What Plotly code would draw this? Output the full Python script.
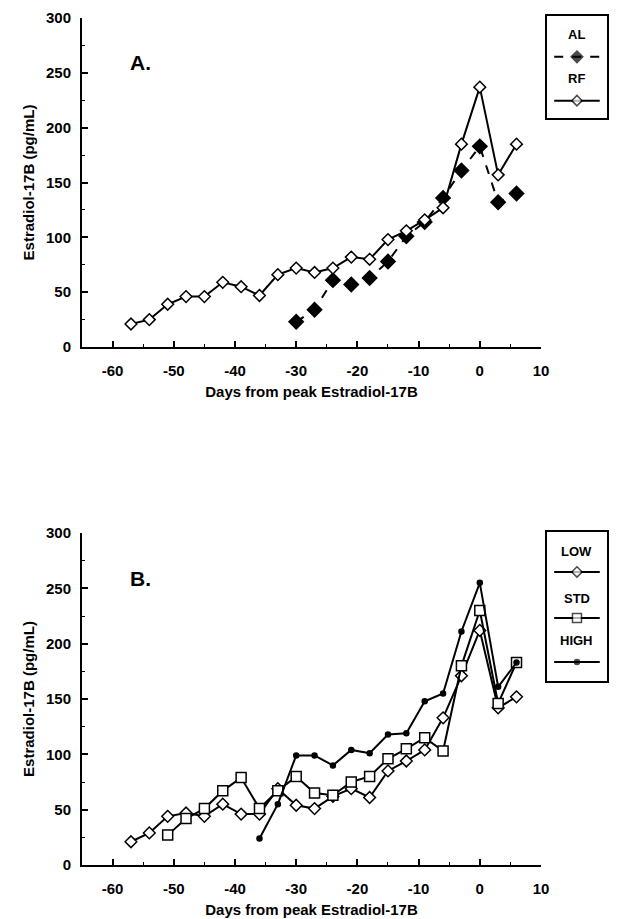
import plotly.graph_objects as go

# ---- data ----
days_rf = [-57, -54, -51, -48, -45, -42, -39, -36, -33, -30, -27, -24, -21, -18, -15, -12, -9, -6, -3, 0, 3, 6]
rf_vals = [21, 25, 39, 46, 46, 59, 55, 47, 66, 72, 68, 72, 82, 80, 98, 106, 116, 127, 185, 237, 157, 185]
days_al = [-30, -27, -24, -21, -18, -15, -12, -9, -6, -3, 0, 3, 6]
al_vals = [23, 34, 61, 57, 63, 78, 101, 114, 136, 161, 183, 132, 140]

days_low = [-57, -54, -51, -48, -45, -42, -39, -36, -33, -30, -27, -24, -21, -18, -15, -12, -9, -6, -3, 0, 3, 6]
low_vals = [21, 29, 44, 47, 44, 55, 46, 46, 69, 54, 51, 62, 69, 61, 85, 94, 104, 133, 171, 212, 142, 152]
days_std = [-51, -48, -45, -42, -39, -36, -33, -30, -27, -24, -21, -18, -15, -12, -9, -6, -3, 0, 3, 6]
std_vals = [27, 42, 51, 67, 79, 51, 67, 80, 65, 63, 75, 80, 96, 105, 115, 103, 180, 230, 146, 183]
days_high = [-36, -33, -30, -27, -24, -21, -18, -15, -12, -9, -6, -3, 0, 3, 6]
high_vals = [24, 55, 99, 99, 90, 104, 101, 118, 119, 148, 155, 211, 255, 161, 183]

x_ticks = [-60, -50, -40, -30, -20, -10, 0, 10]
x_ticklabels = ["-60", "-50", "-40", "-30", "-20", "-10", "0", "10"]
y_ticks = [0, 50, 100, 150, 200, 250, 300]
x_title = "Days from peak Estradiol-17B"
y_title = "Estradiol-17B (pg/mL)"
legend_a = ["AL", "RF"]
legend_b = ["LOW", "STD", "HIGH"]

FONT = "Liberation Sans, Arial, sans-serif"
BLACK = "black"

fig = go.Figure()

def line_trace(x, y, xa, ya, symbol, size, dash="solid", msize_line=1.5, fill=False):
    return go.Scatter(
        x=x, y=y, xaxis=xa, yaxis=ya, mode="lines+markers",
        line=dict(color=BLACK, width=2, dash=dash),
        marker=dict(symbol=symbol, size=size, color=BLACK if fill else "white",
                    line=dict(color=BLACK, width=msize_line)),
        showlegend=False, hoverinfo="skip", cliponaxis=False,
    )

# Panel A
fig.add_trace(line_trace(days_al, al_vals, "x", "y", "diamond", 11, dash="dash", fill=True))
fig.add_trace(line_trace(days_rf, rf_vals, "x", "y", "diamond", 9))
# Panel B
fig.add_trace(line_trace(days_low, low_vals, "x2", "y2", "diamond", 9))
fig.add_trace(line_trace(days_std, std_vals, "x2", "y2", "square", 10))
fig.add_trace(line_trace(days_high, high_vals, "x2", "y2", "circle", 5, fill=True))

# Legend samples (in legend axes, unit range)
fig.add_trace(line_trace([0.12, 0.5, 0.88], [0.60, 0.60, 0.60], "x3", "y3", "diamond", [0, 9, 0], dash="dash", fill=True))
fig.add_trace(line_trace([0.12, 0.5, 0.88], [0.17, 0.17, 0.17], "x3", "y3", "diamond", [0, 8, 0]))
fig.add_trace(line_trace([0.12, 0.5, 0.88], [0.732, 0.732, 0.732], "x4", "y4", "diamond", [0, 8, 0]))
fig.add_trace(line_trace([0.12, 0.5, 0.88], [0.423, 0.423, 0.423], "x4", "y4", "square", [0, 9, 0]))
fig.add_trace(line_trace([0.12, 0.5, 0.88], [0.128, 0.128, 0.128], "x4", "y4", "circle", [0, 5, 0], fill=True))

MAIN_X = [0, 0.8726]
LEG_X = [0.884, 0.998]
DOM_A = [0.6101, 0.9976]
DOM_B = [0.0, 0.3910]

def xaxis(anchor, domain):
    return dict(
        domain=domain, anchor=anchor, range=[-65, 10], tickvals=x_ticks, ticktext=x_ticklabels,
        automargin=False,
        ticks="inside", ticklen=6, tickwidth=1.5, tickcolor=BLACK,
        minor=dict(dtick=5, tick0=0, ticks="inside", ticklen=3, tickwidth=1, tickcolor=BLACK),
        showline=True, linecolor=BLACK, linewidth=2, showgrid=False, zeroline=False,
        tickfont=dict(family=FONT, size=15, color=BLACK, weight="bold"),
        ticklabelstandoff=9,
        title=dict(text=x_title, font=dict(family=FONT, size=15, color=BLACK, weight="bold"), standoff=8),
    )

def yaxis(anchor, domain):
    return dict(
        domain=domain, anchor=anchor, range=[0, 300], tickvals=y_ticks, automargin=False,
        ticks="inside", ticklen=6, tickwidth=1.5, tickcolor=BLACK,
        minor=dict(dtick=25, tick0=0, ticks="inside", ticklen=3, tickwidth=1, tickcolor=BLACK),
        showline=True, linecolor=BLACK, linewidth=2, showgrid=False, zeroline=False,
        tickfont=dict(family=FONT, size=15, color=BLACK, weight="bold"),
        ticklabelstandoff=6,
        title=dict(text=y_title, font=dict(family=FONT, size=15, color=BLACK, weight="bold"), standoff=8),
    )

def legaxis(anchor, domain):
    return dict(domain=domain, anchor=anchor, range=[0, 1], showline=True, mirror=True,
                linecolor=BLACK, linewidth=2, showgrid=False, zeroline=False, automargin=False,
                showticklabels=False, ticks="")

fig.update_layout(
    template="none",
    width=610, height=911,
    margin=dict(l=74, r=10, t=8, b=54, autoexpand=False),
    paper_bgcolor="white", plot_bgcolor="white",
    xaxis=xaxis("y", MAIN_X), yaxis=yaxis("x", DOM_A),
    xaxis2=xaxis("y2", MAIN_X), yaxis2=yaxis("x2", DOM_B),
    xaxis3=legaxis("y3", LEG_X), yaxis3=legaxis("x3", [0.8799, 1.0]),
    xaxis4=legaxis("y4", LEG_X), yaxis4=legaxis("x4", [0.2167, 0.3922]),
)

ann_font = dict(family=FONT, size=13, color=BLACK, weight="bold")
annotations = [
    dict(text="A.", x=-55.5, y=259, xref="x", yref="y", showarrow=False,
         font=dict(family=FONT, size=21, color=BLACK, weight="bold")),
    dict(text="B.", x=-55.5, y=259, xref="x2", yref="y2", showarrow=False,
         font=dict(family=FONT, size=21, color=BLACK, weight="bold")),
    dict(text=legend_a[0], x=0.5, y=0.82, xref="x3", yref="y3", showarrow=False, font=ann_font),
    dict(text=legend_a[1], x=0.5, y=0.39, xref="x3", yref="y3", showarrow=False, font=ann_font),
    dict(text=legend_b[0], x=0.5, y=0.866, xref="x4", yref="y4", showarrow=False, font=ann_font),
    dict(text=legend_b[1], x=0.5, y=0.557, xref="x4", yref="y4", showarrow=False, font=ann_font),
    dict(text=legend_b[2], x=0.5, y=0.275, xref="x4", yref="y4", showarrow=False, font=ann_font),
]
fig.update_layout(annotations=annotations)

fig.write_html("out.html")
